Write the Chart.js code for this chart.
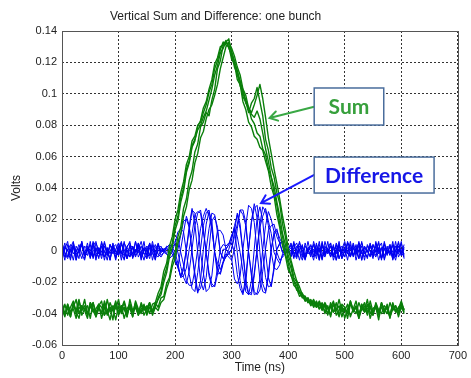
<!DOCTYPE html>
<html>
<head>
<meta charset="utf-8">
<title>Vertical Sum and Difference: one bunch</title>
<script src="https://cdn.jsdelivr.net/npm/chart.js@4/dist/chart.umd.min.js"></script>
<style>
  html, body { margin: 0; padding: 0; background: #fff; }
  #wrap { width: 471px; height: 378px; }
</style>
</head>
<body>
<div id="wrap"><canvas id="chart" width="471" height="378"></canvas></div>
<script>
// scope traces are sampled every dt ns, values below in mV
const dt = 5;

const xTicks = [0, 100, 200, 300, 400, 500, 600, 700];
const yTicks = [-0.06, -0.04, -0.02, 0, 0.02, 0.04, 0.06, 0.08, 0.1, 0.12, 0.14];

// sum signal, a few passages of the bunch
const sumA = [
  -33, -40, -36, -42, -34, -38, -31, -41, -37, -35, -43, -33, -39, -36, -40, -32, -38, -44, -35, -37, -31, -40, -36, -42, -34, -39, -33, -41, -37, -35, -40, -34, -38,
  -35, -31, -28, -20, -14, -4, 2, 13, 19, 31, 38, 50, 56, 66, 70, 79, 83, 91, 95, 103, 109, 119, 123, 130, 131, 134, 129, 125, 117, 113,
  105, 101, 94, 91, 84, 81, 75, 73, 65, 61, 52, 47, 37, 29, 17, 9, -2, -8, -16, -19, -25, -26, -30, -29, -33, -31, -35, -32,
  -37, -33, -40, -35, -42, -34, -38, -31, -39, -36, -43, -34, -37, -40, -33, -38, -35, -41, -32, -39, -36, -44, -34, -37, -40, -33, -38, -35, -42, -36, -39,
];
const sumB = [
  -38, -34, -41, -36, -32, -39, -43, -35, -37, -40, -33, -38, -42, -34, -36, -41, -31, -39, -37, -44, -35, -38, -33, -40, -36, -42, -32, -37, -39, -34, -41, -36, -38, -33,
  -36, -30, -29, -21, -17, -7, -1, 9, 15, 27, 33, 45, 51, 63, 68, 79, 82, 88, 86, 96, 103, 116, 121, 131, 133, 135, 126, 121, 112, 108,
  98, 95, 88, 94, 97, 104, 95, 86, 71, 64, 53, 47, 37, 30, 17, 9, -3, -8, -17, -20, -26, -27, -31, -30, -34, -32, -36, -33, -37,
  -34, -40, -36, -32, -41, -38, -35, -43, -37, -33, -39, -36, -42, -34, -38, -31, -40, -37, -35, -41, -33, -39, -36, -43, -34, -38, -40, -35, -37,
];
const sumC = [
  -36, -41, -34, -39, -37, -43, -32, -38, -35, -40, -36, -33, -42, -37, -39, -34, -41, -36, -38, -32, -40, -35, -43, -37, -34, -39, -36, -41, -33, -38, -35, -40,
  -34, -33, -27, -23, -13, -8, 3, 9, 20, 26, 37, 44, 55, 60, 70, 73, 80, 82, 88, 93, 101, 106, 116, 121, 128, 133, 131, 130, 122, 119,
  109, 106, 95, 90, 82, 79, 73, 71, 66, 64, 57, 51, 41, 35, 23, 15, 3, -3, -12, -15, -22, -24, -29, -28, -32, -30, -34, -31, -35, -32,
  -36, -33, -37,
  -35, -39, -33, -41, -36, -38, -34, -42, -37, -32, -40, -36, -39, -34, -43, -37, -35, -40, -33, -38, -36, -41, -34, -39, -37, -32, -38,
];
const sumD = [
  -39, -35, -37, -42, -33, -40, -36, -38, -31, -41, -35, -39, -37, -34, -43, -36, -40, -33, -38, -35, -41, -37, -32, -39, -36, -42, -34, -38, -40, -35, -37, -33, -41, -36, -38,
  -33, -31, -24, -19, -10, -5, 5, 11, 22, 28, 39, 45, 56, 62, 72, 76, 84, 90, 93, 99, 106, 116, 123, 130, 133, 129, 124, 117, 112, 103,
  99, 91, 88, 93, 99, 106, 97, 85, 72, 62, 52, 43, 33, 22, 13, 2, -6, -13, -19, -23, -28, -29, -33, -32, -36, -33, -37,
  -34, -39, -36, -41, -33, -38, -35, -42, -37, -40, -32, -38, -36, -43, -34, -39, -37, -35, -41, -33, -38, -36, -40, -34, -42, -37, -35, -39, -33, -38,
];
const sumE = [
  -37, -42, -34, -39, -36, -31, -40, -35, -38, -43, -33, -37, -40, -35, -32, -41, -38, -36, -44, -33, -39, -35, -37, -42, -31, -38, -36, -40, -34, -41, -37, -33, -39,
  -36, -30, -26, -17, -11, -1, 5, 16, 22, 34, 40, 52, 57, 67, 71, 77, 80, 85, 89, 96, 103, 112, 118, 126, 129, 133, 131, 127, 120, 115,
  108, 102, 96, 91, 87, 85, 89, 84, 75, 65, 57, 47, 41, 31, 22, 11, 4, -6, -11, -19, -22, -27, -28, -32, -31, -35, -33, -36, -34,
  -38, -35, -41, -33, -39, -37, -42, -34, -36, -40, -32, -38, -35, -43, -37, -33, -39, -36, -41, -34, -38, -40, -35, -37, -42, -33, -39, -36, -34, -40,
];

// difference signal
const diffA = [
  3, -4, 1, -6, 5, -2, 0, 4, -5, 2, -3, 6, -1, -4, 3, 0, -6, 4, -2, 1, 5, -3, -5, 2, 0, -4, 6, -1, 3, -2, -5, 4, 1, -3, 5, -1,
  1, 2, 4, 3, 4, -1, -10, -17, -21, -13, 1, 16, 24, 26, 14, -1, -16, -23, -22, -11, 1, 4, 3, 5, 5, -1, -15, -24, -28, -16,
  1, 18, 27, 29, 16, -1, -17, -23, -22, -10, 1, 4, 6, 1, -1,
  -3, 5, -2, 0, 4, -5, 1, -4, 6, -1, 2, -6, 3, -2, 5, -3, 0, 4, -5, 1, -2, 6, -4, 2, -1, 3, -6, 4, 0, -3, 5, -1, 2, -5, 3, -2, 6, -4, 1, -3, 4,
];
const diffB = [
  -2, 5, -4, 1, -6, 3, -1, 6, -3, 0, 4, -5, 2, -2, 5, -4, 1, -6, 3, 0, -3, 5, -1, -5, 4, 2, -4, 1, 6, -2, 0, -5, 3, -1, 4, -3,
  -1, 3, 2, 0, -5, -11, -16, -10, 1, 13, 26, 24, 16, -1, -14, -26, -24, -16, 1, 13, 13, 10, 1, -1, -5, -18, -21, -16, 1, 16,
  29, 27, 18, -1, -18, -26, -27, -14, 1, 10, 13, 8, 4, -1, 1,
  4, -1, -5, 3, 0, -3, 6, -2, 1, -5, 4, -1, -4, 2, 5, -6, 0, 3, -2, -4, 6, 1, -3, 4, -5, 0, 2, -1, 5, -4, 3, -6, 1, 4, -2, 0, -5, 3, -1, 5, -3,
];
const diffC = [
  5, -1, -4, 2, 6, -3, 0, -5, 3, 1, -2, 4, -6, 2, -1, 5, -3, 0, 3, -4, 1, -2, 6, -5, -1, 3, -3, 5, 0, -6, 2, 4, -2, -4, 1, 3,
  -1, -2, -5, -3, -5, 1, 10, 19, 20, 15, -1, -14, -26, -24, -16, 1, 14, 24, 23, 12, -1, -5, -2, -4, -6, 1, 14, 26, 26, 18,
  -1, -16, -28, -27, -18, 1, 16, 25, 20, 12, -1, -6, -4, -2, 1,
  -4, 2, 5, -1, -6, 3, 0, -3, 4, -2, 6, -5, 1, -1, 3, -4, 5, 0, -2, 2, -6, 4, -3, 1, 5, -1, -4, 3, 0, -5, 6, -2, 2, -3, 1, 4, -6, 0, 3, -1, -4,
];
const diffD = [
  -5, 2, 0, -3, 4, -6, 1, 3, -2, 5, -4, 0, 2, -5, 6, -1, -3, 4, 0, -2, 3, -6, 5, 1, -4, 2, -1, 4, -5, 0, 3, -3, 6, -2, -4, 1,
  1, -2, -3, 0, 5, 12, 14, 12, -1, -15, -24, -26, -14, 1, 16, 24, 26, 14, -1, -12, -15, -8, -3, 1, 7, 16, 23, 14, -1, -18,
  -27, -28, -16, 1, 17, 28, 25, 16, -1, -11, -12, -9, -2, 1, 0,
  2, -5, 3, 1, -4, 5, -2, 0, -6, 4, -1, 3, -3, 6, -4, 1, 2, -5, 0, 4, -2, -3, 5, -1, 3, -6, 2, 0, -4, 4, -1, 5, -5, 1, -2, 3, -3, 6, -4, 0, 2,
];
const diffE = [
  2, -6, 4, -1, 3, -4, 0, 5, -3, 1, -5, 3, 6, -2, 0, -4, 2, -6, 5, -1, -3, 4, 1, -5, 3, -2, 6, -4, 0, 2, -3, 5, -1, -6, 4, 0,
  1, 2, 4, 2, -1, -8, -17, -12, 1, 16, 27, 17, -1, -19, -25, -17, 1, 19, 22, 15, -1, -5, -4, -2, 1, 12, 24, 17, -1, -21,
  -28, -19, 1, 21, 28, 19, -1, -17, -23, -12, 1, 5, 6, 1, -1,
  0, 4, -3, 6, -1, -5, 2, 3, -4, 1, -6, 5, -2, 0, 3, -3, 4, -5, 1, 6, -1, -4, 2, -2, 5, -6, 3, 0, -3, 4, -1, 1, -5, 6, -2, 3, -4, 0, 5, -3, 2,
];
const diffF = [
  -3, 1, 6, -5, 2, -1, 4, -2, -6, 3, 0, 5, -4, 1, -3, 6, -1, -5, 2, 4, -2, 0, -6, 3, 5, -4, 1, -1, -3, 6, -5, 2, 0, 4, -2, -4,
  -1, 2, -1, -2, -7, -10, 1, 12, 22, 16, -1, -17, -27, -19, 1, 17, 25, 19, -1, -15, -14, -7, 1, 4, 10, 14, -1, -19, -27, -21,
  1, 19, 30, 21, -1, -21, -26, -17, 1, 12, 14, 5, -1, -2, 1,
  5, -2, 1, -6, 3, -4, 0, 4, -1, 2, -5, 6, -3, 1, -2, 4, -6, 0, 3, -1, 5, -4, 2, -3, 6, -2, 0, -5, 4, 1, -3, 2, -6, 5, -1, 0, 3, -4, 6, -2, 1,
];
const diffG = [
  4, -2, -5, 1, 3, -6, 2, 5, -1, -3, 6, -4, 0, 2, -5, 3, -2, 4, 1, -6, 5, -1, -3, 2, 6, -5, 0, 3, -4, 1, -2, 5, -6, 2, 4, -1,
  0, 1, 1, 4, 6, 8, -1, -9, -19, -22, -22, -12, 1, 14, 22, 27, 22, 14, -1, -8, -12, -7, -4, -1, 1, 9, 17, 26, 23, 16,
  -1, -14, -26, -28, -25, -13, 1, 13, 16, 17, 9, 5, -1, 0, 1,
  -2, 6, -4, 1, 3, -5, 0, 2, -3, 5, -6, 4, -1, 1, -4, 3, -2, 6, -5, 0, 2, -3, 4, -6, 1, 5, -1, -4, 3, -2, 0, 6, -5, 2, -3, 4, -1, -6, 3, 1, -2,
];
const diffH = [
  -6, 3, 0, 4, -2, 1, -5, 6, -3, 2, -1, -4, 5, 0, 3, -6, 2, -2, 4, -5, 1, 6, -3, 0, -4, 3, -1, 5, -6, 2, 1, -3, 4, -5, 0, 2,
  1, -1, 0, 1, -5, -10, -17, -16, -11, 1, 11, 23, 25, 24, 12, -1, -14, -21, -23, -15, -7, 1, 1, 4, 9, 15, 9, -1, -13, -26,
  -28, -26, -14, 1, 15, 22, 27, 19, 11, -1, -5, -8, -3, -1, 1,
  3, -4, 1, 5, -2, -6, 2, 0, 4, -3, 1, -5, 6, -1, -2, 3, -6, 4, 0, -4, 5, 2, -3, 1, -5, 6, -2, 0, 3, -1, -4, 2, 5, -6, 1, -3, 4, 0, -2, 6, -5,
];

const sumColor = "#0a7f0a";
const diffColor = "#0000f2";

// callout boxes, placed in data units
const callouts = [
  { text: "Sum", color: "#37a03c", arrowColor: "#3aa845", box: [446, 0.1037, 569, 0.0801], tail: [446, 0.0918], tip: [367, 0.0846] },
  { text: "Difference", color: "#1616e6", arrowColor: "#1a1aff", box: [446, 0.0597, 658, 0.0368], tail: [446, 0.0483], tip: [352, 0.0304] },
];

function toPoints(mv) {
  return mv.map((v, i) => ({ x: i * dt, y: v / 1000 }));
}

function trace(mv, color, width) {
  return {
    data: toPoints(mv),
    borderColor: color,
    borderWidth: width,
    pointRadius: 0,
    borderJoinStyle: "round",
    tension: 0,
  };
}

const decor = {
  id: "decor",
  afterDatasetsDraw(chart) {
    const { ctx, chartArea: a, scales } = chart;
    const sx = scales.x, sy = scales.y;
    ctx.save();

    // axes box
    ctx.strokeStyle = "#555";
    ctx.lineWidth = 1;
    ctx.strokeRect(Math.round(a.left) + 0.5, Math.round(a.top) + 0.5,
      Math.round(a.right - a.left), Math.round(a.bottom - a.top));

    callouts.forEach((c) => {
      const x1 = sx.getPixelForValue(c.box[0]);
      const y1 = sy.getPixelForValue(c.box[1]);
      const x2 = sx.getPixelForValue(c.box[2]);
      const y2 = sy.getPixelForValue(c.box[3]);
      const tx = sx.getPixelForValue(c.tail[0]);
      const ty = sy.getPixelForValue(c.tail[1]);
      const px = sx.getPixelForValue(c.tip[0]);
      const py = sy.getPixelForValue(c.tip[1]);

      // arrow
      ctx.strokeStyle = c.arrowColor;
      ctx.lineWidth = 2;
      ctx.lineCap = "round";
      ctx.beginPath();
      ctx.moveTo(tx, ty);
      ctx.lineTo(px, py);
      const ang = Math.atan2(ty - py, tx - px);
      const len = 9;
      ctx.moveTo(px + len * Math.cos(ang - 0.55), py + len * Math.sin(ang - 0.55));
      ctx.lineTo(px, py);
      ctx.lineTo(px + len * Math.cos(ang + 0.55), py + len * Math.sin(ang + 0.55));
      ctx.stroke();

      // box
      ctx.fillStyle = "#fff";
      ctx.fillRect(x1, y1, x2 - x1, y2 - y1);
      ctx.strokeStyle = "#4a6d9c";
      ctx.lineWidth = 1.5;
      ctx.strokeRect(x1, y1, x2 - x1, y2 - y1);

      ctx.fillStyle = c.color;
      ctx.font = "bold 21px Lato";
      ctx.textAlign = "center";
      ctx.textBaseline = "middle";
      ctx.fillText(c.text, (x1 + x2) / 2, (y1 + y2) / 2 + 1);
    });

    // title
    ctx.fillStyle = "#222";
    ctx.font = "12px 'Liberation Sans', Arial, sans-serif";
    ctx.textAlign = "left";
    ctx.textBaseline = "middle";
    ctx.fillText("Vertical Sum and Difference: one bunch", 110, 17);

    ctx.restore();
  },
};

Chart.defaults.font.family = "'Liberation Sans', Arial, sans-serif";
Chart.defaults.color = "#222";

const sums = [sumA, sumB, sumC, sumD, sumE];
const diffs = [diffA, diffB, diffC, diffD, diffE, diffF, diffG, diffH];

new Chart(document.getElementById("chart"), {
  type: "line",
  data: {
    datasets: [
      ...sums.map((s) => trace(s, sumColor, 1.4)),
      ...diffs.map((d) => trace(d, diffColor, 1)),
    ],
  },
  options: {
    responsive: false,
    animation: false,
    events: [],
    layout: { padding: { top: 31, right: 10, left: 0, bottom: 0 } },
    plugins: { legend: { display: false }, tooltip: { enabled: false } },
    scales: {
      x: {
        type: "linear",
        min: 0,
        max: 700,
        afterBuildTicks: (s) => { s.ticks = xTicks.map((v) => ({ value: v })); },
        afterFit: (s) => { s.height = 33; },
        ticks: { autoSkip: false, maxRotation: 0, padding: 4, font: { size: 11 } },
        grid: { color: "#333", lineWidth: 1, drawTicks: false },
        border: { display: false, dash: [2, 2] },
        title: { display: true, text: "Time (ns)", font: { size: 12 }, padding: { top: 0, bottom: 3 } },
      },
      y: {
        type: "linear",
        min: -0.06,
        max: 0.14,
        afterBuildTicks: (s) => { s.ticks = yTicks.map((v) => ({ value: v })); },
        afterFit: (s) => { s.width = 62; },
        ticks: {
          autoSkip: false,
          padding: 5,
          font: { size: 11 },
          callback: (v) => String(+Number(v).toFixed(2)),
        },
        grid: { color: "#333", lineWidth: 1, drawTicks: false },
        border: { display: false, dash: [2, 2] },
        title: { display: true, text: "Volts", font: { size: 12 }, padding: { top: 9, bottom: 0 } },
      },
    },
  },
  plugins: [decor],
});
</script>
</body>
</html>
